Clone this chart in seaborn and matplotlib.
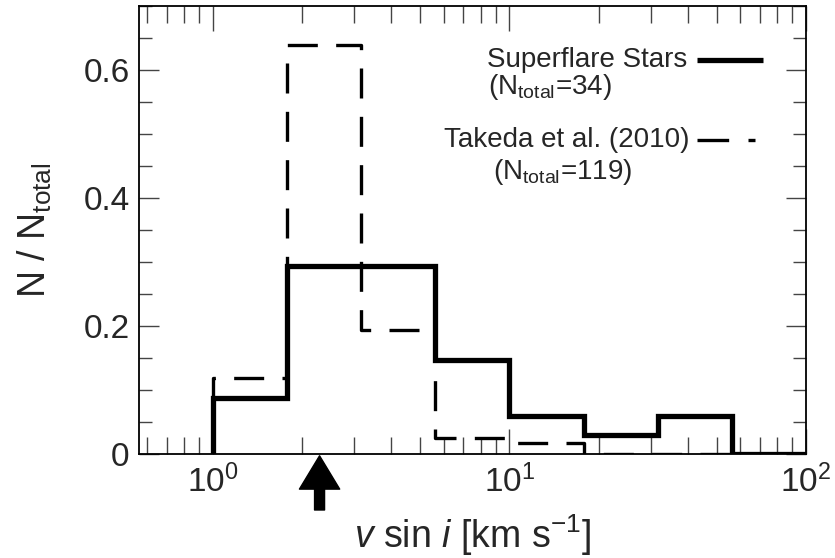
import numpy as np
import pandas as pd
import matplotlib
matplotlib.use("Agg")
import matplotlib.pyplot as plt
import matplotlib.ticker as mticker
import seaborn as sns

# Bin edges in v sin i [km/s] (0.25 dex bins from 1 to 100)
bin_edges = [1.0, 1.778, 3.162, 5.623, 10.0, 17.78, 31.62, 56.23, 100.0]
# Fraction of stars per bin
superflare_frac = [0.088, 0.294, 0.294, 0.147, 0.059, 0.029, 0.059, 0.0]
takeda_frac = [0.118, 0.639, 0.193, 0.025, 0.017, 0.0, 0.0, 0.0]
# Solar value marked with an arrow
sun_vsini = 2.29

y_ticks = [0.0, 0.2, 0.4, 0.6]
y_tick_labels = ["0", "0.2", "0.4", "0.6"]

sns.set_style("ticks")
plt.rcParams["font.family"] = ["Liberation Sans", "DejaVu Sans"]
plt.rcParams["mathtext.fontset"] = "custom"
plt.rcParams["mathtext.rm"] = "Liberation Sans"
plt.rcParams["mathtext.it"] = "Liberation Sans:italic"
plt.rcParams["mathtext.bf"] = "Liberation Sans:bold"


def step_frame(edges, fracs, name):
    # outline of a histogram: rise from zero at the first edge, then steps
    xs = [edges[0]] + list(edges)
    ys = [0.0] + list(fracs) + [fracs[-1]]
    return pd.DataFrame({"v": xs, "frac": ys, "sample": name})


df_sf = step_frame(bin_edges, superflare_frac, "Superflare Stars")
df_tk = step_frame(bin_edges, takeda_frac, "Takeda et al. (2010)")

fig = plt.figure(figsize=(8.35, 5.58), dpi=100)
ax = fig.add_axes([0.1668, 0.1864, 0.7985, 0.8029])

sns.lineplot(data=df_tk, x="v", y="frac", ax=ax, estimator=None, sort=False,
             drawstyle="steps-post", color="black", lw=2.4,
             dashes=False, linestyle=(0, (9, 5.5)), legend=False)
sns.lineplot(data=df_sf, x="v", y="frac", ax=ax, estimator=None, sort=False,
             drawstyle="steps-post", color="black", lw=3.8,
             solid_joinstyle="miter", legend=False)

ax.set_xscale("log")
ax.set_xlim(10 ** -0.248, 100)
ax.set_ylim(0, 0.7)

ax.xaxis.set_major_locator(mticker.LogLocator(base=10, numticks=10))
ax.xaxis.set_minor_locator(mticker.LogLocator(base=10, subs=np.arange(2, 10), numticks=20))
ax.xaxis.set_minor_formatter(mticker.NullFormatter())
ax.set_yticks(y_ticks, y_tick_labels)
ax.yaxis.set_minor_locator(mticker.MultipleLocator(0.05))

ax.tick_params(axis="both", which="both", direction="in", top=True, right=True,
               color="#444444", width=1.0, labelsize=24)
ax.tick_params(axis="x", which="major", length=18, pad=8)
ax.tick_params(axis="x", which="minor", length=12)
ax.tick_params(axis="y", which="major", length=14.5, pad=7)
ax.tick_params(axis="y", which="minor", length=9.5)
for sp in ax.spines.values():
    sp.set_linewidth(1.3)
    sp.set_color("black")

ax.set_xlabel(r"$v$ sin $i$ [km s$^{-1}$]", fontsize=27, labelpad=9)
ax.set_ylabel(r"N / N$_{\mathrm{total}}$", fontsize=27, labelpad=21)

# Arrow marking the solar rotation velocity
ax.annotate("", xy=(sun_vsini, -0.004), xycoords=("data", "axes fraction"),
            xytext=(sun_vsini, -0.125), textcoords=("data", "axes fraction"),
            arrowprops=dict(facecolor="black", edgecolor="black", width=7.2,
                            headwidth=29, headlength=24, shrink=0),
            annotation_clip=False)

# Key
fs = 20
ax.text(0.8215, 0.8795, "Superflare Stars", transform=ax.transAxes,
        ha="right", va="center", fontsize=fs)
ax.plot([0.8365, 0.9355], [0.8795, 0.8795], transform=ax.transAxes,
        color="black", lw=3.8, solid_capstyle="butt")
ax.text(0.5228, 0.819, r"(N$_{\mathrm{total}}$=34)", transform=ax.transAxes,
        ha="left", va="center", fontsize=fs)
ax.text(0.8245, 0.7009, "Takeda et al. (2010)", transform=ax.transAxes,
        ha="right", va="center", fontsize=fs)
ax.plot([0.8365, 0.9235], [0.7009, 0.7009], transform=ax.transAxes,
        color="black", lw=2.4, linestyle=(0, (9.5, 5.8)), dash_capstyle="butt")
ax.text(0.5305, 0.6295, r"(N$_{\mathrm{total}}$=119)", transform=ax.transAxes,
        ha="left", va="center", fontsize=fs)

fig.savefig("out.png", dpi=100)
